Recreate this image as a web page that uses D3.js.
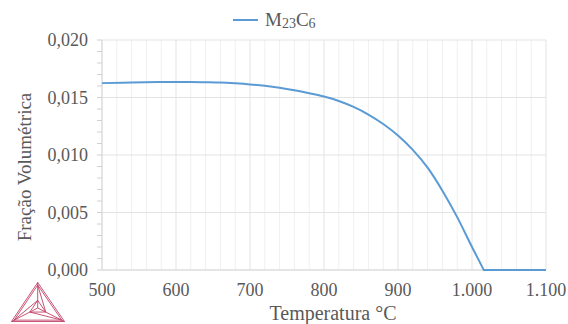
<!DOCTYPE html>
<html><head><meta charset="utf-8">
<script src="https://cdn.jsdelivr.net/npm/d3@7"></script>
<style>
html,body{margin:0;padding:0;background:#fff;}
</style></head>
<body><svg id="c" width="568" height="324"></svg>
<script>
const temperatures = [500,540,580,600,620,640,660,680,700,720,740,760,780,800,820,840,860,880,900,920,940,960,980,1000,1016,1100];
const fractions = [0.01625,0.01630,0.01634,0.01635,0.01635,0.01633,0.01630,0.01623,0.01614,0.01602,0.01585,0.01563,0.01537,0.01508,0.01470,0.01418,0.01352,0.01270,0.01170,0.01045,0.00890,0.00690,0.00460,0.00200,0,0];
const xTicks = [500,600,700,800,900,1000,1100];
const xTickLabels = ["500","600","700","800","900","1.000","1.100"];
const yTicks = [0,0.005,0.010,0.015,0.020];
const yTickLabels = ["0,000","0,005","0,010","0,015","0,020"];

const FONT = "'Liberation Serif','DejaVu Serif','Noto Serif',serif";
const svg = d3.select("#c");
const x = d3.scaleLinear().domain([500,1100]).range([102,546]);
const y = d3.scaleLinear().domain([0,0.020]).range([270,40]);

const minorX = d3.range(500,1101,20);
svg.append("g").selectAll("line").data(minorX).join("line")
  .attr("x1",d=>x(d)).attr("x2",d=>x(d)).attr("y1",y(0.020)).attr("y2",y(0))
  .attr("stroke",d=>d%100===0?"#e3e3e3":"#f0f0f0").attr("stroke-width",1);
svg.append("g").selectAll("line").data(yTicks).join("line")
  .attr("x1",x(500)).attr("x2",x(1100)).attr("y1",d=>y(d)).attr("y2",d=>y(d))
  .attr("stroke","#e3e3e3").attr("stroke-width",1);
svg.append("line").attr("x1",x(500)).attr("x2",x(500)).attr("y1",y(0.020)).attr("y2",y(0)).attr("stroke","#d9d9d9");
const minorY = d3.range(0,21).map(i=>i*0.001);
svg.append("g").selectAll("line").data(minorY).join("line")
  .attr("x1",x(500)-5).attr("x2",x(500)).attr("y1",d=>y(d)).attr("y2",d=>y(d))
  .attr("stroke","#d0d0d0");
svg.append("line").attr("x1",x(500)).attr("x2",x(1100)).attr("y1",y(0)).attr("y2",y(0)).attr("stroke","#d9d9d9");

const T = (sel)=>sel.attr("font-family",FONT).attr("fill","#595959");
T(svg.append("g").selectAll("text").data(yTicks).join("text"))
  .attr("x",88).attr("y",d=>y(d)).attr("dy","0.35em").attr("text-anchor","end")
  .attr("font-size",18).text((d,i)=>yTickLabels[i]);
T(svg.append("g").selectAll("text").data(xTicks).join("text"))
  .attr("x",d=>x(d)).attr("y",296).attr("text-anchor","middle")
  .attr("font-size",18).text((d,i)=>xTickLabels[i]);

T(svg.append("text")).attr("transform","translate(31,167) rotate(-90)").attr("text-anchor","middle")
  .attr("font-size",19).text("Fração Volumétrica");
T(svg.append("text")).attr("x",333).attr("y",320).attr("text-anchor","middle")
  .attr("font-size",20).text("Temperatura °C");

const pts = temperatures.map((t,i)=>[t,fractions[i]]);
const iz = fractions.indexOf(0);
const curvePart = pts.slice(0,iz+1), flatPart = pts.slice(iz);
const lineC = d3.line().x(d=>x(d[0])).y(d=>y(d[1])).curve(d3.curveMonotoneX);
const lineL = d3.line().x(d=>x(d[0])).y(d=>y(d[1]));
svg.append("path").attr("d",lineC(curvePart)+lineL(flatPart).replace(/^M/,"L"))
  .attr("fill","none").attr("stroke","#5b9bd5").attr("stroke-width",2).attr("stroke-linejoin","round");

svg.append("line").attr("x1",233).attr("x2",258).attr("y1",20).attr("y2",20).attr("stroke","#5b9bd5").attr("stroke-width",2);
const lt = T(svg.append("text")).attr("x",265).attr("y",26).attr("font-size",19);
lt.append("tspan").text("M");
lt.append("tspan").attr("font-size",14).attr("dy",2).text("23");
lt.append("tspan").attr("dy",-2).text("C");
lt.append("tspan").attr("font-size",14).attr("dy",2).text("6");

const logo = svg.append("g").attr("fill","none").attr("stroke","#b8214f").attr("stroke-width",0.9).attr("opacity",0.85);
const A=[37.7,282.5],B=[11.5,321.5],C=[64.5,321.5],O=[37.7,308];
const tri=(p,q,r)=>`M${p}L${q}L${r}Z`;
logo.append("path").attr("d",tri(A,B,C));
const shrink=(P,k)=>[O[0]+(P[0]-O[0])*k,O[1]+(P[1]-O[1])*k];
logo.append("path").attr("d",tri(shrink(A,0.9),shrink(B,0.9),shrink(C,0.9)));
logo.append("path").attr("d",tri(shrink(A,0.3),shrink(B,0.3),shrink(C,0.3)));
[A,B,C].forEach(P=>{
  logo.append("line").attr("x1",O[0]).attr("y1",O[1]).attr("x2",P[0]).attr("y2",P[1]);
});
[[A,B],[B,C],[C,A]].forEach(([P,Q])=>{
  logo.append("line").attr("x1",shrink(P,0.3)[0]).attr("y1",shrink(P,0.3)[1]).attr("x2",shrink(Q,0.9)[0]).attr("y2",shrink(Q,0.9)[1]);
});
</script></body></html>
